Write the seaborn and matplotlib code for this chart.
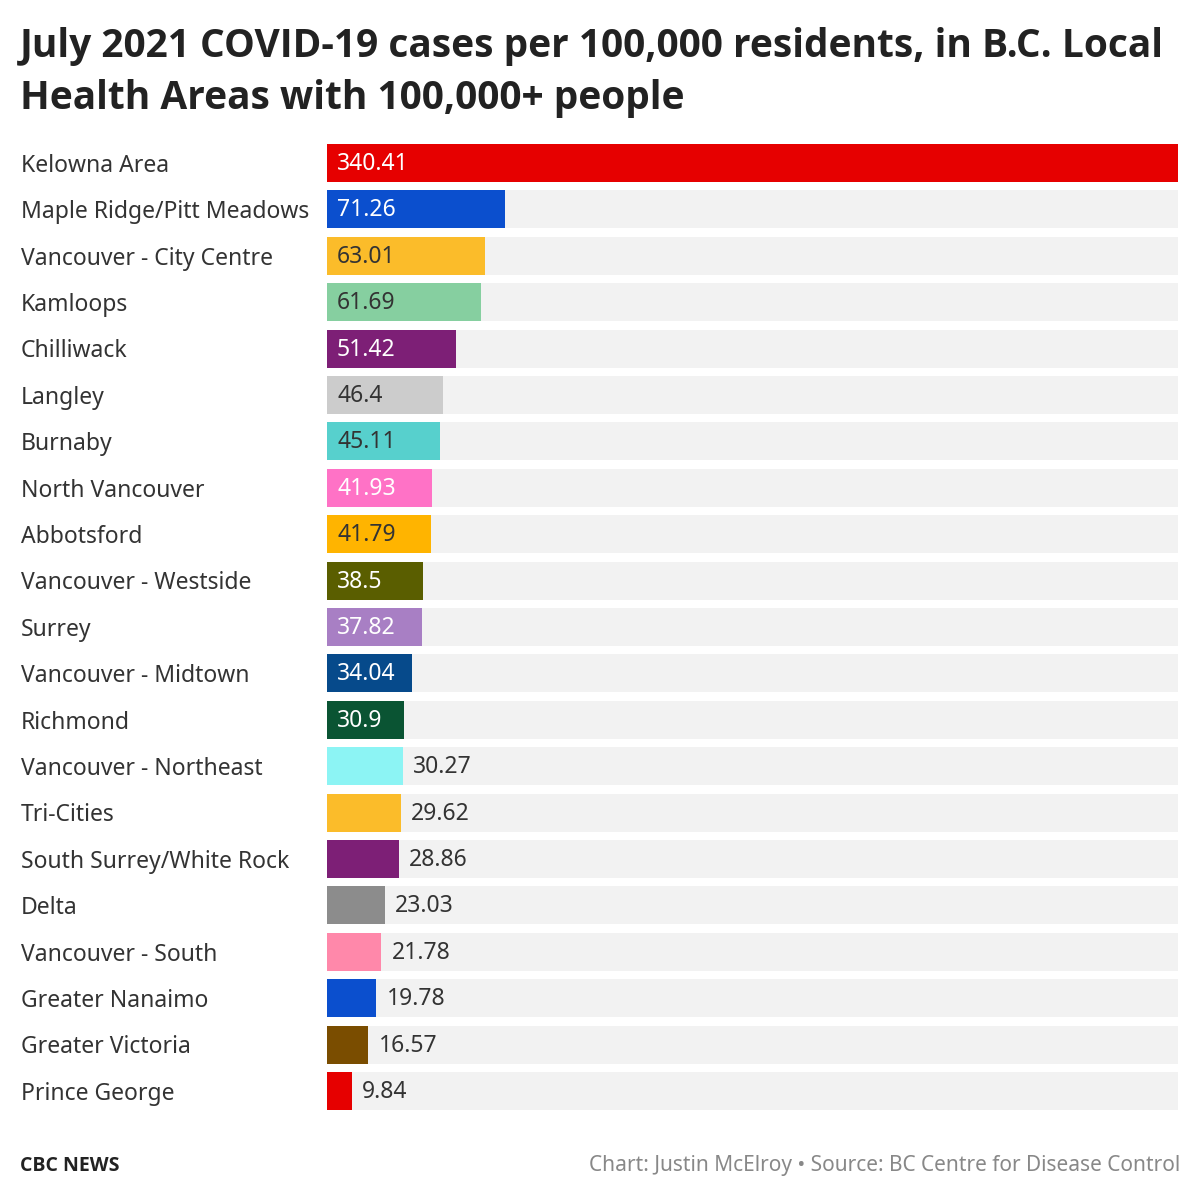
import matplotlib
matplotlib.use("Agg")
import matplotlib.pyplot as plt
import matplotlib.transforms as mtransforms
import seaborn as sns
import pandas as pd

areas = ["Kelowna Area", "Maple Ridge/Pitt Meadows", "Vancouver - City Centre", "Kamloops",
         "Chilliwack", "Langley", "Burnaby", "North Vancouver", "Abbotsford",
         "Vancouver - Westside", "Surrey", "Vancouver - Midtown", "Richmond",
         "Vancouver - Northeast", "Tri-Cities", "South Surrey/White Rock", "Delta",
         "Vancouver - South", "Greater Nanaimo", "Greater Victoria", "Prince George"]
values = [340.41, 71.26, 63.01, 61.69, 51.42, 46.4, 45.11, 41.93, 41.79, 38.5, 37.82,
          34.04, 30.9, 30.27, 29.62, 28.86, 23.03, 21.78, 19.78, 16.57, 9.84]
colors = ["#e60000", "#0b4fce", "#fbbc2a", "#86cfa0", "#7d1f76", "#cccccc", "#57d0cd",
          "#ff72c6", "#ffb400", "#5a5e00", "#a87fc4", "#064a8b", "#0a5433", "#8cf4f4",
          "#fbbc2a", "#7d1f76", "#8c8c8c", "#ff88aa", "#0b4fce", "#7a4d00", "#e60000"]
light_bars = {"#fbbc2a", "#86cfa0", "#cccccc", "#57d0cd", "#ffb400"}

sns.set_theme(style="white")
plt.rcParams['font.family'] = ['Noto Sans', 'DejaVu Sans']

df = pd.DataFrame({"area": areas, "value": values, "full": [max(values)] * len(values)})

fig = plt.figure(figsize=(12, 11.98), dpi=100)
ax = fig.add_axes([327/1200, 88/1198, (1178-327)/1200, (1054-88)/1198])
sns.barplot(data=df, y="area", x="full", color="#f2f2f2", width=0.82, ax=ax,
            saturation=1, linewidth=0)
sns.barplot(data=df, y="area", x="value", hue="area", palette=colors, width=0.82,
            ax=ax, legend=False, saturation=1, linewidth=0)
ax.set_xlim(0, max(values))
ax.set_ylim(len(areas) - 1 + 0.41, -0.41)
ax.set_xlabel(""); ax.set_ylabel("")
ax.set_xticks([]); ax.set_yticks([])
sns.despine(ax=ax, left=True, bottom=True)

tr = mtransforms.blended_transform_factory(fig.transFigure, ax.transData)
off = 10 / 851 * max(values)
fs = 16.5
for i, (a, v, c) in enumerate(zip(areas, values, colors)):
    ax.text(21/1200, i + 0.06, a, transform=tr, ha="left", va="center", fontsize=fs, color="#333333")
    if v >= 30.5:
        tc = "#333333" if c in light_bars else "white"
        ax.text(off, i + 0.02, f"{v:g}", ha="left", va="center", fontsize=fs, color=tc)
    else:
        ax.text(v + off, i + 0.02, f"{v:g}", ha="left", va="center", fontsize=fs, color="#333333")

tfont = dict(fontsize=28, fontweight="bold", color="#222222", va="center", ha="left",
             family=["Open Sans", "DejaVu Sans"])
fig.text(20/1200, 1 - 47/1198, "July 2021 COVID-19 cases per 100,000 residents, in B.C. Local", **tfont)
fig.text(20/1200, 1 - 99/1198, "Health Areas with 100,000+ people", **tfont)
fig.text(20/1200, 1 - 1166/1198, "CBC NEWS", fontsize=14, fontweight="bold",
         color="#222222", va="center", ha="left", family=["Open Sans", "DejaVu Sans"])
fig.text(1180/1200, 1 - 1166/1198, "Chart: Justin McElroy • Source: BC Centre for Disease Control",
         fontsize=15, color="#888888", va="center", ha="right")
fig.savefig("out.png", dpi=100, facecolor="white")
